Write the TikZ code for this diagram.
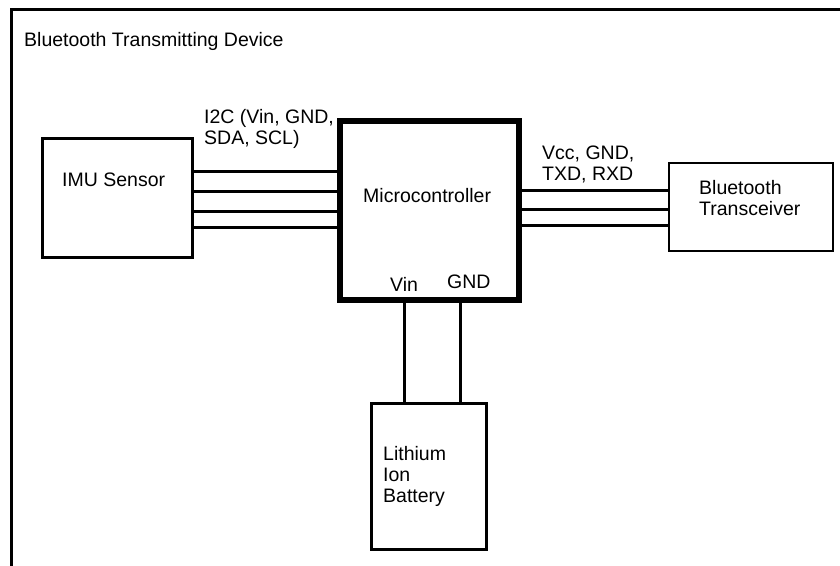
\documentclass[tikz,border=0pt]{standalone}
\usepackage{fontspec}
\setmainfont{Liberation Sans}
\begin{document}
\begin{tikzpicture}[x=1pt, y=-1pt, font=\fontsize{19.5}{21}\selectfont,
		box/.style={draw, line width=3pt, inner sep=0pt},
		wire/.style={line width=3pt},
		lbl/.style={inner sep=0pt, align=left, anchor=base west}]
		\useasboundingbox (0,0) rectangle (840,565);
		\begin{scope}
			\clip (0,0) rectangle (840,565);
			\draw[line width=3pt] (11,9) rectangle (850,580);
		\end{scope}
		\node[lbl] (title) at (24,46) {Bluetooth Transmitting Device};
		\node[box, minimum width=150pt, minimum height=119pt] (imu) at (117.5,198) {};
		\node[box, line width=6.5pt, minimum width=179pt, minimum height=179pt] (mcu) at (429.5,210.5) {};
		\node[box, line width=2pt, minimum width=164pt, minimum height=88pt] (bt) at (751,207) {};
		\node[box, minimum width=115pt, minimum height=146pt] (bat) at (429,476.5) {};
		\foreach \y in {171,191,211,227}
			\draw[wire] (imu.east |- 0,\y) -- (mcu.west |- 0,\y);
		\foreach \y in {190,209,225}
			\draw[wire] (mcu.east |- 0,\y) -- (bt.west |- 0,\y);
		\foreach \x in {404,460}
			\draw[wire] (mcu.south -| \x,0) -- (bat.north -| \x,0);
		% multi-line labels sit on their last line
		\node[lbl] (imulbl) at (62,186) {IMU Sensor};
		\node[lbl] (mculbl) at (363,202) {Microcontroller};
		\node[lbl] (btlbl) at (699,215) {Bluetooth\\Transceiver};
		\node[lbl] (batlbl) at (383,502) {Lithium\\Ion\\Battery};
		\node[lbl] (i2c) at (204,144) {I2C (Vin, GND,\\SDA, SCL)};
		\node[lbl] (uart) at (542,180) {Vcc, GND,\\TXD, RXD};
		\node[lbl] (vin) at (390,291) {Vin};
		\node[lbl] (gnd) at (447,288) {GND};
	\end{tikzpicture}
\end{document}
